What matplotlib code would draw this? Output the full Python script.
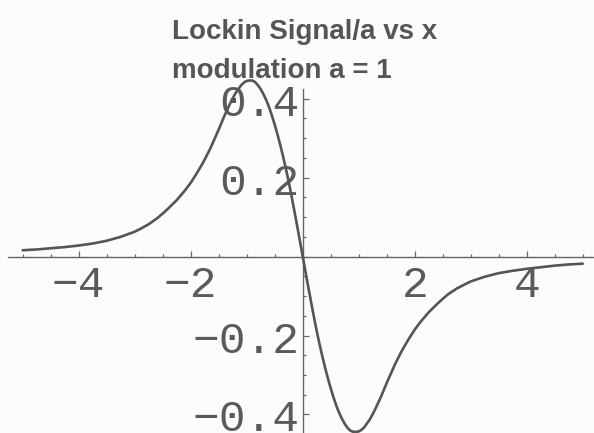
import numpy as np
import matplotlib.pyplot as plt
from matplotlib.transforms import ScaledTranslation

# lock-in signal (first harmonic / a) for modulation a = 1
x_left = [-5.0, -4.75, -4.5, -4.25, -4.0, -3.75, -3.5, -3.25, -3.0, -2.9,
          -2.75, -2.6, -2.5, -2.4, -2.25, -2.1, -2.0, -1.9, -1.8, -1.75,
          -1.65, -1.5, -1.4, -1.3, -1.25, -1.2, -1.1, -1.05, -1.0, -0.95,
          -0.9, -0.85, -0.8, -0.75, -0.7, -0.65, -0.6, -0.55, -0.5, -0.45,
          -0.4, -0.35, -0.3, -0.25, -0.2, -0.15, -0.1, -0.05, 0.0]
y_left = [0.016, 0.018, 0.021, 0.024, 0.028, 0.033, 0.040, 0.050, 0.063, 0.070,
          0.082, 0.097, 0.109, 0.122, 0.143, 0.168, 0.187, 0.209, 0.233, 0.246,
          0.274, 0.322, 0.356, 0.387, 0.401, 0.414, 0.434, 0.441, 0.445, 0.446,
          0.446, 0.442, 0.434, 0.424, 0.411, 0.396, 0.378, 0.357, 0.334, 0.309,
          0.282, 0.253, 0.222, 0.189, 0.153, 0.116, 0.078, 0.039, 0.0]
x_right = [0.05, 0.1, 0.15, 0.2, 0.25, 0.3, 0.35, 0.4, 0.45, 0.5, 0.55, 0.6,
           0.65, 0.7, 0.75, 0.8, 0.85, 0.9, 0.95, 1.0, 1.05, 1.1, 1.2, 1.25,
           1.3, 1.4, 1.5, 1.65, 1.75, 1.8, 1.9, 2.0, 2.1, 2.25, 2.4, 2.5, 2.6,
           2.75, 2.9, 3.0, 3.25, 3.5, 3.75, 4.0, 4.25, 4.5, 4.75, 5.0]
y_right = [-0.039, -0.078, -0.116, -0.153, -0.189, -0.222, -0.253, -0.282,
           -0.309, -0.334, -0.357, -0.378, -0.396, -0.411, -0.424, -0.434,
           -0.441, -0.444, -0.444, -0.443, -0.439, -0.432, -0.412, -0.399,
           -0.385, -0.354, -0.320, -0.272, -0.244, -0.231, -0.207, -0.185,
           -0.166, -0.141, -0.120, -0.107, -0.095, -0.081, -0.070, -0.063,
           -0.051, -0.042, -0.036, -0.031, -0.027, -0.023, -0.020, -0.018]

x_ticks = [-4, -2, 2, 4]
x_labels = ['\u22124', '\u22122', '2', '4']
y_ticks = [-0.4, -0.2, 0.2, 0.4]
y_labels = ['\u22120.4', '\u22120.2', '0.2', '0.4']

ink = '#555555'
W, H = 594, 433
fig = plt.figure(figsize=(W / 100, H / 100), dpi=100, facecolor='#fcfcfa')
ax = fig.add_axes([0, 0, 1, 1])
ax.set_facecolor('#fcfcfa')

x = x_left + x_right
y = y_left + y_right
ax.plot(x, y, color=ink, lw=1.9, solid_capstyle='round',
        solid_joinstyle='round', zorder=3)

# axes cross at the origin, Mathematica style
ax.set_xlim(-5.405, 5.20)
ax.set_ylim(-0.447, 0.65)
for side in ('top', 'right'):
    ax.spines[side].set_visible(False)
ax.spines['left'].set_position(('data', 0))
ax.spines['bottom'].set_position(('data', 0))
ax.spines['left'].set_bounds(-0.447, 0.425)
ax.spines['bottom'].set_bounds(-5.26, 5.2)
for side in ('left', 'bottom'):
    ax.spines[side].set_color('#666666')
    ax.spines[side].set_linewidth(1.0)

ax.set_xticks(x_ticks, labels=x_labels)
ax.set_yticks(y_ticks, labels=y_labels)
ax.set_xticks(np.arange(-5.0, 5.01, 0.5), minor=True)
ax.set_yticks(np.arange(-0.4, 0.401, 0.05), minor=True)
ax.tick_params(which='both', direction='in', color='#666666', width=0.9)
ax.tick_params(which='major', length=4.5)
ax.tick_params(which='minor', length=2.5)
ax.tick_params(axis='x', pad=6, labelsize=32, labelcolor='#5a5a5a')
ax.tick_params(axis='y', pad=2, labelsize=32, labelcolor='#5a5a5a')
for lab in ax.get_xticklabels() + ax.get_yticklabels():
    lab.set_fontfamily('Liberation Mono')
for lab in ax.get_yticklabels():
    lab.set_verticalalignment('baseline')
    lab.set_transform(lab.get_transform()
                      + ScaledTranslation(0, -0.17, fig.dpi_scale_trans))

fig.text(172 / W, 1 - 38.6 / H, 'Lockin Signal/a vs x', fontsize=20,
         fontweight='bold', family='Liberation Sans', color=ink, va='baseline')
fig.text(172 / W, 1 - 77.6 / H, 'modulation a = 1', fontsize=20,
         fontweight='bold', family='Liberation Sans', color=ink, va='baseline')

fig.savefig('out.png', dpi=100, facecolor=fig.get_facecolor())
